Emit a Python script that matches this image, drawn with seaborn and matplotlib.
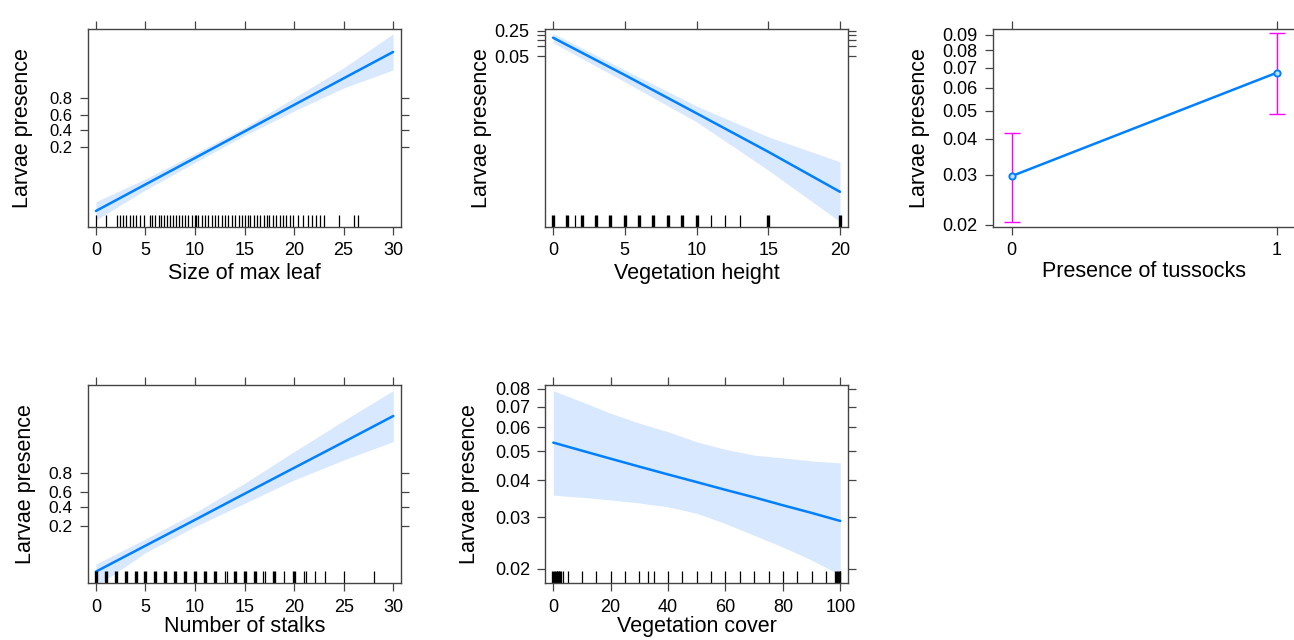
import matplotlib
matplotlib.use("Agg")
import matplotlib.pyplot as plt
import seaborn as sns
import numpy as np
from matplotlib.ticker import FixedLocator, FixedFormatter, NullLocator

# ---- data ----
leaf_x = [0, 5, 10, 15, 20, 25, 30]
leaf_fit = [0.00624, 0.0279, 0.1157, 0.374, 0.732, 0.926, 0.9827]
leaf_hi = [0.0106, 0.0378, 0.1448, 0.429, 0.803, 0.958, 0.9938]
leaf_lo = [0.00373, 0.0205, 0.0918, 0.322, 0.659, 0.878, 0.953]
leaf_rug = [0, 1, 2.1, 2.4, 2.7, 3, 3.4, 3.7, 4, 4.4, 4.9, 5.5, 5.7, 6, 6.4, 6.6, 6.9,
            7.2, 7.5, 7.8, 8.1, 8.4, 8.7, 9, 9.3, 9.7, 10, 10.1, 10.3, 10.7, 11, 11.3,
            11.7, 12, 12.3, 12.7, 13, 13.3, 13.7, 14, 14.4, 14.7, 15, 15.4, 15.6, 16,
            16.3, 16.6, 17, 17.3, 17.5, 17.9, 18.2, 18.6, 18.9, 19.2, 19.6, 19.9, 20.4,
            20.9, 21.4, 21.8, 22.2, 22.6, 23, 24.5, 26.1, 26.5]

height_x = [0, 5, 10, 15, 20]
height_fit = [0.169, 0.0128, 7.7e-4, 4.5e-5, 2.35e-6]
height_hi = [0.219, 0.0184, 1.31e-3, 1.36e-4, 2.15e-5]
height_lo = [0.123, 0.0078, 4.1e-4, 1.16e-5, 2.6e-7]
height_rug_many = [0, 1, 2, 3, 4, 5, 6, 7, 8, 9, 10, 15, 20]
height_rug_few = [1.5, 11, 12, 13]

tussock_x = [0, 1]
tussock_fit = [0.0297, 0.0674]
tussock_lo = [0.0205, 0.0489]
tussock_hi = [0.0419, 0.0911]

stalk_x = [0, 5, 10, 15, 20, 25, 30]
stalk_fit = [0.0221, 0.0814, 0.257, 0.577, 0.842, 0.954, 0.9879]
stalk_hi = [0.0327, 0.112, 0.335, 0.703, 0.926, 0.9846, 0.9968]
stalk_lo = [0.0102, 0.0579, 0.195, 0.452, 0.738, 0.890, 0.955]
stalk_rug_many = [0, 1, 2, 3, 4, 5, 6, 7, 8, 9, 10, 11, 12, 14, 15, 16, 18, 20]
stalk_rug_few = [13, 13.2, 16.9, 17.1, 19, 21, 21.2, 22.1, 23.1, 25, 28.1]

cover_x = [0, 10, 20, 30, 40, 50, 60, 70, 80, 90, 100]
cover_fit = [0.0534, 0.0502, 0.0472, 0.0444, 0.0418, 0.0394, 0.0371, 0.0350,
             0.0329, 0.0310, 0.0291]
cover_hi = [0.0790, 0.0727, 0.0667, 0.0619, 0.0580, 0.0537, 0.0507, 0.0485,
            0.0475, 0.0464, 0.0457]
cover_lo = [0.0356, 0.0350, 0.0343, 0.0335, 0.0325, 0.0309, 0.0285, 0.0260,
            0.0237, 0.0214, 0.0190]
cover_rug_many = [0, 1, 1.8, 2.5, 98.5, 99.5]
cover_rug_few = [3.3, 5, 10, 15, 20, 25, 30, 33, 35, 40, 45, 50, 55, 60, 65, 70,
                 75, 80, 85, 90, 95, 100]

LINE = "#0080FF"
BAND = "#D8E8FF"
FRAME = "#444444"

sns.set_style("ticks")
plt.rcParams["font.family"] = ["Liberation Sans", "DejaVu Sans"]
plt.rcParams["text.color"] = "black"
plt.rcParams["axes.labelcolor"] = "black"

W, H = 1294, 640
fig = plt.figure(figsize=(W / 100, H / 100), dpi=100)


def make_ax(left, top, right, bottom):
    return fig.add_axes([left / W, 1 - bottom / H, (right - left) / W, (bottom - top) / H])


def style_ax(ax, xlim, ylim, xticks, yticks, ylabels, xlabel, xlab_y, ylab_x,
             right_ticks=True, ysize=13):
    ax.set_yscale("logit")
    ax.set_xlim(*xlim)
    ax.set_ylim(*ylim)
    ax.set_xticks(xticks)
    ax.set_xticklabels([str(t) for t in xticks])
    ax.yaxis.set_major_locator(FixedLocator(yticks))
    ax.yaxis.set_major_formatter(FixedFormatter(ylabels))
    ax.yaxis.set_minor_locator(NullLocator())
    ax.xaxis.set_minor_locator(NullLocator())
    ax.tick_params(axis="both", direction="out", length=6, width=0.9, color=FRAME,
                   labelcolor="black", labelsize=13, top=True, right=right_ticks,
                   labeltop=False, labelright=False)
    ax.tick_params(axis="x", pad=5)
    ax.tick_params(axis="y", pad=5, labelsize=ysize)
    for s in ax.spines.values():
        s.set_color(FRAME)
        s.set_linewidth(1.0)
    ax.set_xlabel(xlabel, fontsize=15.5, va="center")
    ax.set_ylabel("Larvae presence", fontsize=15.5, va="center")
    ax.xaxis.set_label_coords(0.5, xlab_y)
    ax.yaxis.set_label_coords(ylab_x, 0.5)


def effect_panel(ax, x, fit, lo, hi, rug_many, rug_few):
    ax.set_yscale("logit")
    ax.fill_between(x, lo, hi, color=BAND, lw=0)
    sns.lineplot(x=x, y=fit, ax=ax, color=LINE, linewidth=1.8, estimator=None)
    if rug_many:
        sns.rugplot(x=rug_many, ax=ax, height=0.06, color="black", linewidth=2.4,
                    expand_margins=False)
    if rug_few:
        sns.rugplot(x=rug_few, ax=ax, height=0.06, color="black", linewidth=0.9,
                    expand_margins=False)


# Size of max leaf
ax1 = make_ax(88, 29, 401, 227)
effect_panel(ax1, leaf_x, leaf_fit, leaf_lo, leaf_hi, [], leaf_rug)
style_ax(ax1, (-0.8, 30.8), (0.0025, 0.9953), [0, 5, 10, 15, 20, 25, 30],
         [0.2, 0.4, 0.6, 0.8], ["0.2", "0.4", "0.6", "0.8"], "Size of max leaf",
         -0.237, -0.208, ysize=12)

# Vegetation height
ax2 = make_ax(545, 29, 848, 227)
effect_panel(ax2, height_x, height_fit, height_lo, height_hi, height_rug_many, height_rug_few)
style_ax(ax2, (-0.56, 20.56), (1.75e-7, 0.2786), [0, 5, 10, 15, 20],
         [0.05, 0.1, 0.15, 0.2, 0.25], ["0.05", "", "", "", "0.25"], "Vegetation height",
         -0.237, -0.209)

# Presence of tussocks
ax3 = make_ax(992.7, 29, 1296, 226.7)
ax3.set_yscale("logit")
yerr = [np.array(tussock_fit) - np.array(tussock_lo), np.array(tussock_hi) - np.array(tussock_fit)]
ax3.errorbar(tussock_x, tussock_fit, yerr=yerr, fmt="none", ecolor="#FF00FF",
             elinewidth=1.0, capsize=5.5, capthick=1.0, zorder=2)
sns.lineplot(x=tussock_x, y=tussock_fit, ax=ax3, color=LINE, linewidth=1.8, marker="o",
             markersize=4.5, markerfacecolor="#BFDFFF", markeredgecolor=LINE,
             markeredgewidth=1.4, estimator=None, zorder=3)
style_ax(ax3, (-0.072, 1.072), (0.0197, 0.0941), [0, 1],
         [0.02, 0.03, 0.04, 0.05, 0.06, 0.07, 0.08, 0.09],
         ["0.02", "0.03", "0.04", "0.05", "0.06", "0.07", "0.08", "0.09"],
         "Presence of tussocks", -0.228, -0.240, right_ticks=False)

# Number of stalks
ax4 = make_ax(88, 385, 400.7, 583.3)
effect_panel(ax4, stalk_x, stalk_fit, stalk_lo, stalk_hi, stalk_rug_many, stalk_rug_few)
style_ax(ax4, (-0.8, 30.75), (0.01209, 0.99761), [0, 5, 10, 15, 20, 25, 30],
         [0.2, 0.4, 0.6, 0.8], ["0.2", "0.4", "0.6", "0.8"], "Number of stalks",
         -0.219, -0.201, ysize=12.5)

# Vegetation cover
ax5 = make_ax(545.3, 385, 848.3, 583.3)
effect_panel(ax5, cover_x, cover_fit, cover_lo, cover_hi, cover_rug_many, cover_rug_few)
style_ax(ax5, (-2.78, 102.8), (0.0178, 0.0824), [0, 20, 40, 60, 80, 100],
         [0.02, 0.03, 0.04, 0.05, 0.06, 0.07, 0.08],
         ["0.02", "0.03", "0.04", "0.05", "0.06", "0.07", "0.08"],
         "Vegetation cover", -0.219, -0.249)

fig.savefig("out.png", dpi=100)
